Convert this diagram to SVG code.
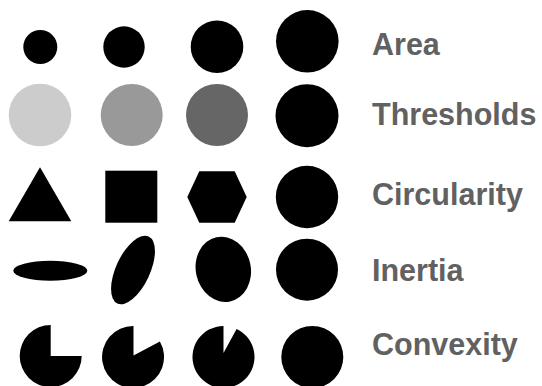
<svg xmlns="http://www.w3.org/2000/svg" width="542" height="386" viewBox="0 0 542 386">
<style>
.k{fill:#000}
.lbl{font-family:"Liberation Sans",Arial,Helvetica,sans-serif;font-weight:bold;font-size:30.5px;fill:#616161}
</style>
<rect x="0" y="0" width="542" height="386" fill="#ffffff"/>
<g id="row-area">
<circle class="k" cx="40.3" cy="47" r="17"/>
<circle class="k" cx="124" cy="47" r="20.7"/>
<circle class="k" cx="217" cy="46.7" r="26.3"/>
<circle class="k" cx="307.3" cy="41.3" r="31.3"/>
<text class="lbl" x="372" y="54.7">Area</text>
</g>
<g id="row-thresholds">
<circle cx="40" cy="115" r="31.3" fill="#cccccc"/>
<circle cx="131.7" cy="115" r="31" fill="#999999"/>
<circle cx="217" cy="115" r="31" fill="#666666"/>
<circle class="k" cx="307" cy="115.7" r="31.5"/>
<text class="lbl" x="372" y="124.7">Thresholds</text>
</g>
<g id="row-circularity">
<polygon class="k" points="40,167.3 71.3,221.3 8.7,221.3"/>
<rect class="k" x="105.3" y="170.7" width="52" height="52"/>
<polygon class="k" points="187.3,197 199.3,171.3 234.7,171.3 246.7,197 234.7,222.7 199.3,222.7"/>
<circle class="k" cx="307" cy="197" r="31.2"/>
<text class="lbl" x="372" y="205.3">Circularity</text>
</g>
<g id="row-inertia">
<ellipse class="k" cx="50.3" cy="270.7" rx="37" ry="10"/>
<ellipse class="k" cx="133" cy="270" rx="17" ry="37" transform="rotate(25 133 270)"/>
<ellipse class="k" cx="223.3" cy="269.3" rx="27.5" ry="32.8" transform="rotate(-12 223.3 269.3)"/>
<circle class="k" cx="307" cy="269.7" r="31"/>
<text class="lbl" x="372" y="280.7">Inertia</text>
</g>
<g id="row-convexity">
<path class="k" d="M50.7,356 L50.7,325 A31,31 0 1,0 81.7,356 Z"/>
<path class="k" d="M133.5,355.5 L133.5,326 A31,31 0 1,0 159.9,341.5 Z"/>
<path class="k" d="M223.5,353 L223.5,326 A31,31 0 1,0 236.6,328.9 Z"/>
<circle class="k" cx="312.3" cy="357" r="31"/>
<text class="lbl" x="372" y="355.3">Convexity</text>
</g>
</svg>
